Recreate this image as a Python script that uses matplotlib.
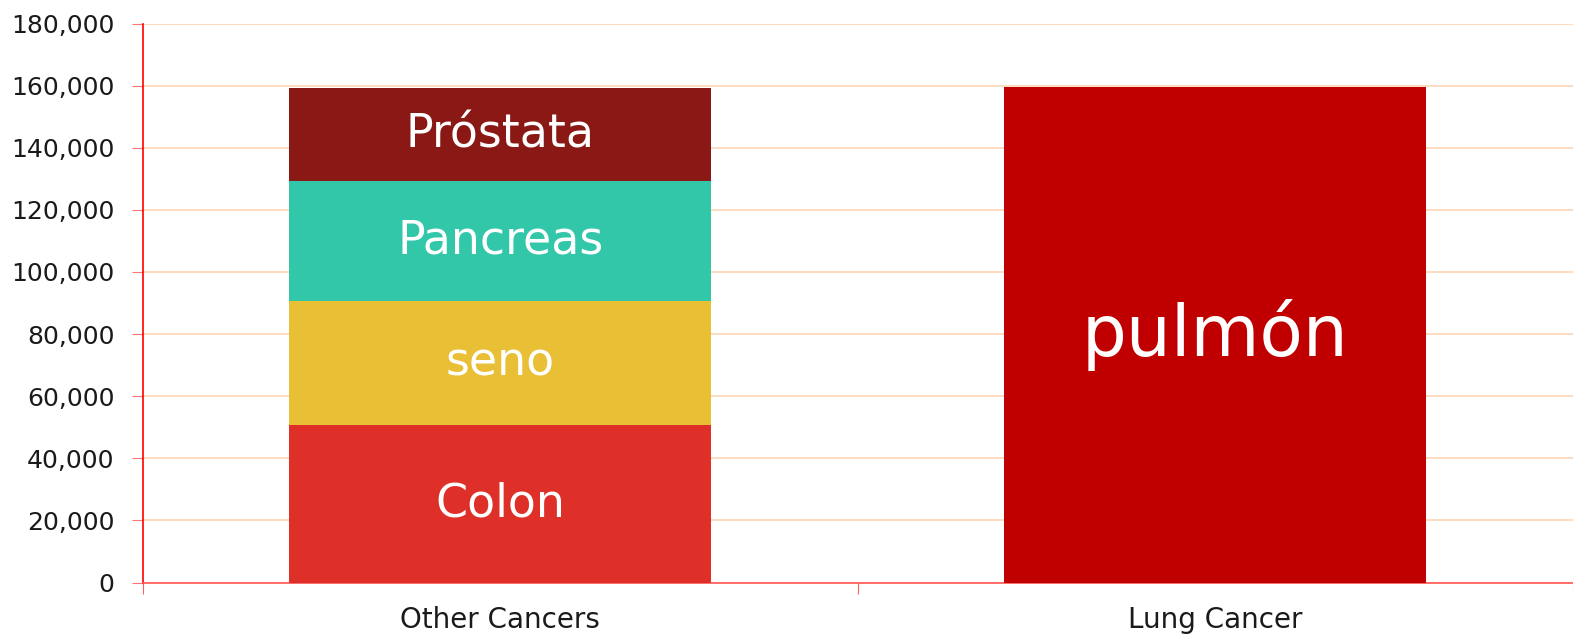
import matplotlib.pyplot as plt
from matplotlib.ticker import FuncFormatter, FixedLocator

plt.rcParams['font.family'] = ['DejaVu Sans']

categories = ["Other Cancers", "Lung Cancer"]
stack_names = ["Colon", "seno", "Pancreas", "Próstata"]
stack_values = [50700, 39900, 38600, 29950]
stack_colors = ["#DE2F28", "#E8BF35", "#33C7A9", "#8A1915"]
lung_name = "pulmón"
lung_value = 159500
yticks = list(range(0, 180001, 20000))

fig = plt.figure(figsize=(15.73, 6.37), dpi=100)
ax = fig.add_axes([0.0906, 0.0855, 0.9094, 0.8775])

bw = 0.59
bottom = 0
for name, val, col in zip(stack_names, stack_values, stack_colors):
    ax.bar(0, val, bottom=bottom, width=bw, color=col, zorder=3)
    ax.text(0, bottom + val / 2, name, ha="center", va="center",
            color="white", fontsize=33, zorder=4)
    bottom += val

ax.bar(1, lung_value, width=bw, color="#C00000", zorder=3)
ax.text(1, lung_value / 2, lung_name, ha="center", va="center",
        color="white", fontsize=51, zorder=4)

ax.set_xlim(-0.5, 1.5)
ax.set_ylim(0, 180000)
ax.set_yticks(yticks)
ax.yaxis.set_major_formatter(FuncFormatter(lambda v, p: f"{int(v):,}"))
ax.grid(axis="y", color="#FDD9BC", linewidth=1.3, zorder=0)

ax.xaxis.set_major_locator(FixedLocator([-0.5, 0.5, 1.5]))
ax.set_xticklabels([])
ax.xaxis.set_minor_locator(FixedLocator([0, 1]))
ax.set_xticklabels(categories, minor=True)
ax.tick_params(axis="x", which="minor", length=0, labelsize=20, pad=17, labelcolor="#1a1a1a")
ax.tick_params(axis="x", which="major", length=8, color="#FF6060", direction="out")
ax.tick_params(axis="y", length=8, color="#FF7070", labelsize=18, pad=12, labelcolor="#1a1a1a")

for s in ["top", "right"]:
    ax.spines[s].set_visible(False)
ax.spines["left"].set_color("#FF0000")
ax.spines["bottom"].set_color("#FF5555")
ax.spines["left"].set_linewidth(1.2)
ax.spines["bottom"].set_linewidth(1.2)

fig.savefig("out.png", dpi=100)
